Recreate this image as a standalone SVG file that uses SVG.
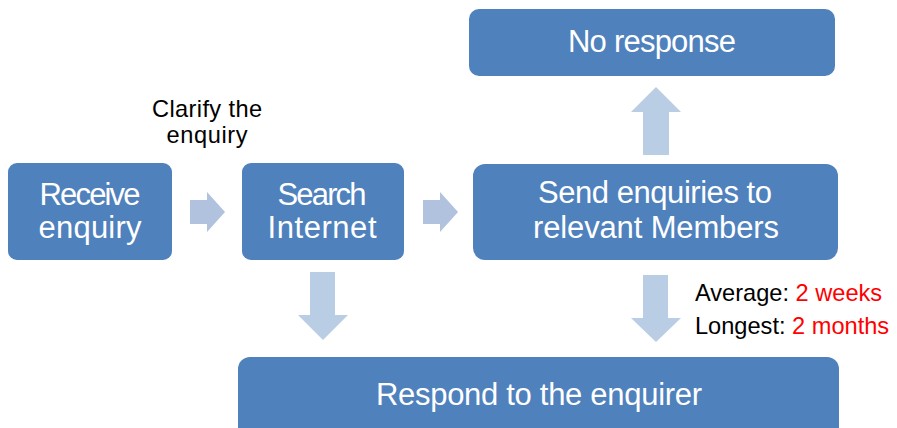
<svg xmlns="http://www.w3.org/2000/svg" width="897" height="428" viewBox="0 0 897 428">
<style>
.box{fill:#4F81BD;}
.bt{font-family:"Liberation Sans",Arial,sans-serif;font-size:31px;fill:#FFFFFF;text-anchor:middle;}
.st{font-family:"Liberation Sans",Arial,sans-serif;font-size:23.6px;fill:#000000;}
.red{fill:#FF0000;}
.ah{fill:#B0C2DE;}
.av{fill:#B9CDE5;}
</style>
<rect width="897" height="428" fill="#FFFFFF"/>
<g id="connectors">
<polygon class="ah" points="190,200 207,200 207,192 225,212 207,232 207,224 190,224"/>
<polygon class="ah" points="423,200 440,200 440,192 458,212 440,232 440,224 423,224"/>
<polygon class="av" points="643,155 643,112 631,112 656,87 681,112 669,112 669,155"/>
<polygon class="av" points="310,272 335,272 335,315 348,315 323,340 298,315 310,315"/>
<polygon class="av" points="643,275 668,275 668,318 681,318 656,342 631,318 643,318"/>
</g>
<g id="receive">
<rect class="box" x="8" y="163" width="164" height="97" rx="9"/>
<text class="bt" x="90" y="205" textLength="101">Receive</text>
<text class="bt" x="90" y="238" textLength="103">enquiry</text>
</g>
<g id="search">
<rect class="box" x="242" y="163" width="162" height="97" rx="9"/>
<text class="bt" x="322" y="205" textLength="89">Search</text>
<text class="bt" x="322" y="238" textLength="109">Internet</text>
</g>
<g id="clarify">
<text class="st" x="207" y="117" text-anchor="middle" textLength="110">Clarify the</text>
<text class="st" x="207" y="143" text-anchor="middle" textLength="81">enquiry</text>
</g>
<g id="send">
<rect class="box" x="473" y="164" width="365" height="96" rx="12"/>
<text class="bt" x="655" y="203" textLength="234">Send enquiries to</text>
<text class="bt" x="656" y="238" textLength="246">relevant Members</text>
</g>
<g id="noresponse">
<rect class="box" x="469" y="9" width="366" height="67" rx="10"/>
<text class="bt" x="652" y="52" textLength="168">No response</text>
</g>
<g id="respond">
<rect class="box" x="238" y="357" width="601" height="90" rx="12"/>
<text class="bt" x="539" y="405" textLength="326">Respond to the enquirer</text>
</g>
<g id="timing">
<text class="st" x="695" y="301">Average: <tspan class="red">2 weeks</tspan></text>
<text class="st" x="695" y="334">Longest: <tspan class="red">2 months</tspan></text>
</g>
</svg>
